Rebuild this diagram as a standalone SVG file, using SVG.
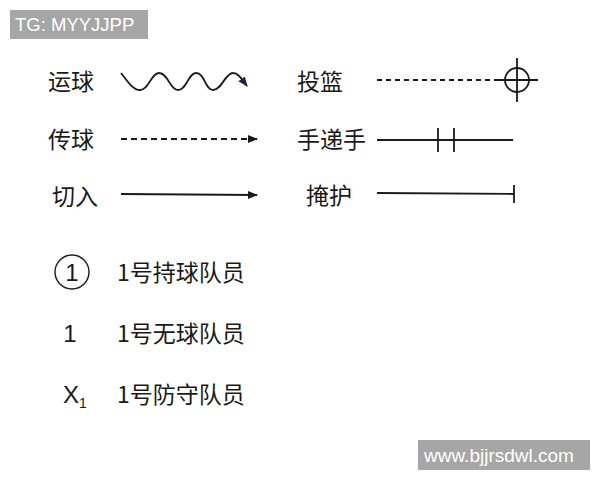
<svg xmlns="http://www.w3.org/2000/svg" width="600" height="480" viewBox="0 0 600 480">
<style>
.lbl{font-family:"Noto Sans CJK SC","Noto Sans",sans-serif;font-size:23px;fill:#1a1a1a}
.num{font-family:"Liberation Sans","Noto Sans CJK SC",sans-serif;font-size:24px;fill:#1a1a1a}
.ln{fill:none;stroke:#1a1a1a;stroke-width:1.8}
.wm{font-family:"Liberation Sans",Arial,sans-serif;fill:#ffffff}
</style>
<defs>
<marker id="arr" viewBox="0 0 10 10" refX="9" refY="5" markerWidth="10" markerHeight="10" markerUnits="userSpaceOnUse" orient="auto">
<path d="M0,1 L10,5 L0,9 Z" fill="#1a1a1a"/>
</marker>
<marker id="arrN" viewBox="0 0 10 10" refX="9" refY="5" markerWidth="10" markerHeight="10" markerUnits="userSpaceOnUse" orient="auto">
<path d="M0,1 L10,5 L0,9 Z" fill="#22243a"/>
</marker>
</defs>
<rect width="600" height="480" fill="#ffffff"/>
<g id="wm-tg">
<rect x="10" y="10" width="138" height="29" fill="#a6a6a6"/>
<text class="wm" x="15" y="31" font-size="18.5">TG: MYYJJPP</text>
</g>
<g id="wm-url">
<rect x="418" y="440" width="172" height="30" fill="#a6a6a6"/>
<text class="wm" x="424" y="462" font-size="19">www.bjjrsdwl.com</text>
</g>
<g id="labels">
<text class="lbl" x="48" y="90">运球</text>
<text class="lbl" x="48" y="148">传球</text>
<text class="lbl" x="52" y="205">切入</text>
<text class="lbl" x="297" y="90">投篮</text>
<text class="lbl" x="297" y="148">手递手</text>
<text class="lbl" x="306" y="204">掩护</text>
</g>
<g id="connectors">
<path id="dribble" class="ln" stroke-width="2" d="M121,73 C128,82 133,90 140,90 C149,90 151,73 159,73 C168,73 170,90 178,90 C187,90 188,73 196,73 C205,73 205,90 213,90 C222,90 225,73 233,73 C238,73 241,78 247,86" marker-end="url(#arrN)"/>
<path id="pass" class="ln" stroke-width="2" d="M121,139 L257,139" stroke-dasharray="6,4" marker-end="url(#arr)"/>
<path id="cut" class="ln" d="M121,194 L257,195" marker-end="url(#arr)"/>
<g id="shot">
<path class="ln" d="M377,80 L500,80" stroke-dasharray="5,4"/>
<circle class="ln" cx="517" cy="80" r="12"/>
<path class="ln" d="M517,58 L517,102 M496,80 L538,80"/>
</g>
<g id="handoff">
<path class="ln" d="M377,140 L513,140"/>
<path class="ln" d="M438,128 L438,152 M454,128 L454,152"/>
</g>
<g id="screen">
<path class="ln" d="M377,193 L514,194"/>
<path class="ln" d="M514,185 L514,203"/>
</g>
</g>
<g id="legend-ball">
<circle cx="72" cy="272" r="17" fill="none" stroke="#1a1a1a" stroke-width="1.4"/>
<text class="num" x="72" y="281" text-anchor="middle">1</text>
<text class="lbl" x="117" y="281">1号持球队员</text>
</g>
<g id="legend-noball">
<text class="num" x="70" y="342" text-anchor="middle">1</text>
<text class="lbl" x="117" y="342">1号无球队员</text>
</g>
<g id="legend-def">
<text class="num" x="63" y="403">X<tspan font-size="14" dy="5">1</tspan></text>
<text class="lbl" x="117" y="403">1号防守队员</text>
</g>
</svg>
